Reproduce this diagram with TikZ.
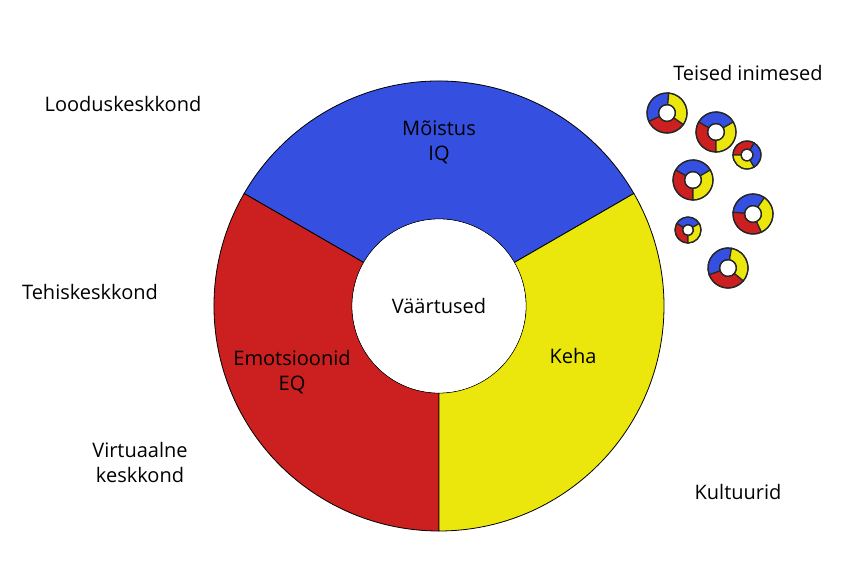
\documentclass[tikz,border=0pt]{standalone}
\usepackage{fontspec}
\setmainfont{Open Sans}
\definecolor{cblue}{HTML}{3550E0}
\definecolor{cred}{HTML}{CC1F20}
\definecolor{cyel}{HTML}{EBE70C}
\newcommand\mydonut[5]{%
 \begin{scope}[shift={(#1,574-#2)},rotate=#5]
  \fill[cblue,draw=black!85,line width=#4] (30:#3) arc(30:150:#3) -- (150:0.42*#3) arc(150:30:0.42*#3) -- cycle;
  \fill[cred,draw=black!85,line width=#4] (150:#3) arc(150:270:#3) -- (270:0.42*#3) arc(270:150:0.42*#3) -- cycle;
  \fill[cyel,draw=black!85,line width=#4] (270:#3) arc(270:390:#3) -- (30:0.42*#3) arc(30:-90:0.42*#3) -- cycle;
  \draw[black!85,line width=#4] (0,0) circle(#3) circle(0.42*#3);
 \end{scope}}
\begin{document}
\begin{tikzpicture}[x=1pt,y=1pt,lbl/.style={font=\fontsize{20}{25}\selectfont,align=center}]
\useasboundingbox (0,0) rectangle (843,574);
\begin{scope}[shift={(439,268)}]
 \fill[cblue,draw=black,line width=0.8] (30:225) arc(30:150:225) -- (150:87) arc(150:30:87) -- cycle;
 \fill[cred,draw=black,line width=0.8] (150:225) arc(150:270:225) -- (270:87) arc(270:150:87) -- cycle;
 \fill[cyel,draw=black,line width=0.8] (270:225) arc(270:390:225) -- (30:87) arc(30:-90:87) -- cycle;
 \fill[white] (0,0) circle(86.6);
\end{scope}
\mydonut{667}{113}{20}{1.2}{55}
\mydonut{716}{132}{20}{1.2}{0}
\mydonut{747}{155}{14}{1.2}{-90}
\mydonut{693}{180}{20}{1.2}{0}
\mydonut{753}{214}{20}{1.2}{25}
\mydonut{688}{230}{13}{1.2}{0}
\mydonut{728}{268}{20}{1.2}{50}
\node[lbl] (mi) at (439,432) {Mõistus\\IQ};
\node[lbl] (va) at (439,268) {Väärtused};
\node[lbl] (eq) at (292,202) {Emotsioonid\\EQ};
\node[lbl] (ke) at (573,218) {Keha};
\node[lbl] (ti) at (748,501) {Teised inimesed};
\node[lbl] (lo) at (123,470) {Looduskeskkond};
\node[lbl] (te) at (90,282) {Tehiskeskkond};
\node[lbl] (vi) at (140,112) {Virtuaalne\\keskkond};
\node[lbl] (ku) at (738,82) {Kultuurid};
\end{tikzpicture}
\end{document}
